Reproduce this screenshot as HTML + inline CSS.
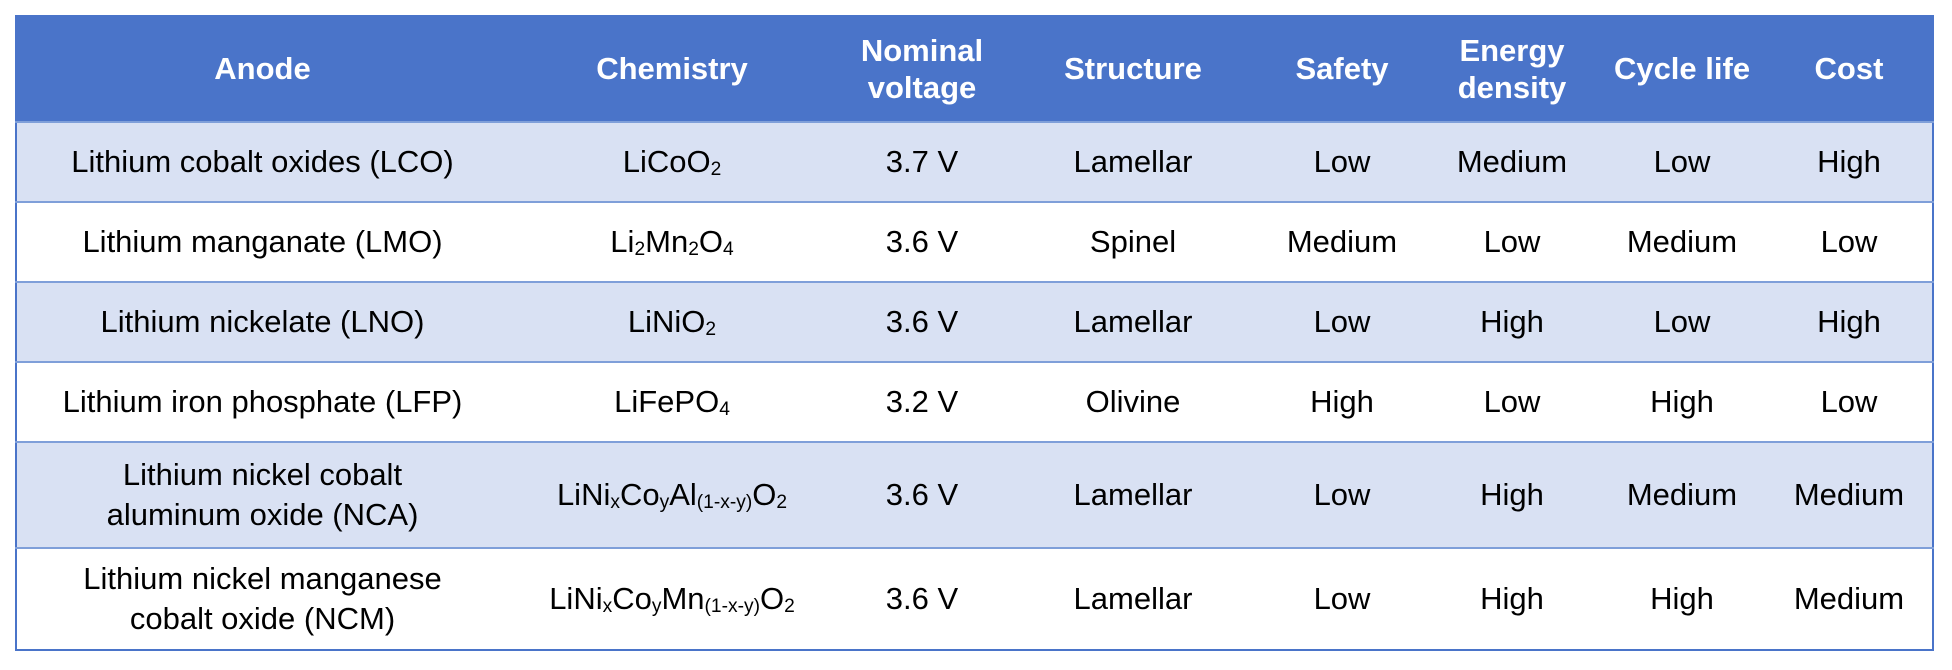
<!DOCTYPE html>
<html><head><style>
body{margin:0;width:1952px;height:670px;background:#fff;font-family:"Liberation Sans",sans-serif;}
table{position:absolute;left:15px;top:15px;border-collapse:collapse;width:1917px;table-layout:fixed;border:2px solid #4a74c9;}
th{background:#4a74c9;color:#fff;font-weight:bold;font-size:31px;height:104px;line-height:1.2;padding:0;text-align:center;}
td{font-size:31px;text-align:center;padding:0;color:#000;border-top:2px solid #7f9fd9;line-height:1.3;}
tr.a td{background:#d9e1f3;}
tr.s td{height:78px;}
tr.t td{height:104px;}
tr.u td{height:100px;}
sub{font-size:0.62em;vertical-align:-0.15em;}
</style></head><body>
<table>
<colgroup><col style="width:492px"><col style="width:328px"><col style="width:172px"><col style="width:250px"><col style="width:168px"><col style="width:172px"><col style="width:168px"><col style="width:167px"></colgroup>
<tr><th>Anode</th><th>Chemistry</th><th>Nominal<br>voltage</th><th>Structure</th><th>Safety</th><th>Energy<br>density</th><th>Cycle life</th><th>Cost</th></tr>
<tr class="a s"><td>Lithium cobalt oxides (LCO)</td><td>LiCoO<sub>2</sub></td><td>3.7 V</td><td>Lamellar</td><td>Low</td><td>Medium</td><td>Low</td><td>High</td></tr>
<tr class="s"><td>Lithium manganate (LMO)</td><td>Li<sub>2</sub>Mn<sub>2</sub>O<sub>4</sub></td><td>3.6 V</td><td>Spinel</td><td>Medium</td><td>Low</td><td>Medium</td><td>Low</td></tr>
<tr class="a s"><td>Lithium nickelate (LNO)</td><td>LiNiO<sub>2</sub></td><td>3.6 V</td><td>Lamellar</td><td>Low</td><td>High</td><td>Low</td><td>High</td></tr>
<tr class="s"><td>Lithium iron phosphate (LFP)</td><td>LiFePO<sub>4</sub></td><td>3.2 V</td><td>Olivine</td><td>High</td><td>Low</td><td>High</td><td>Low</td></tr>
<tr class="a t"><td>Lithium nickel cobalt<br>aluminum oxide (NCA)</td><td>LiNi<sub>x</sub>Co<sub>y</sub>Al<sub>(1-x-y)</sub>O<sub>2</sub></td><td>3.6 V</td><td>Lamellar</td><td>Low</td><td>High</td><td>Medium</td><td>Medium</td></tr>
<tr class="u"><td>Lithium nickel manganese<br>cobalt oxide (NCM)</td><td>LiNi<sub>x</sub>Co<sub>y</sub>Mn<sub>(1-x-y)</sub>O<sub>2</sub></td><td>3.6 V</td><td>Lamellar</td><td>Low</td><td>High</td><td>High</td><td>Medium</td></tr>
</table>
</body></html>
